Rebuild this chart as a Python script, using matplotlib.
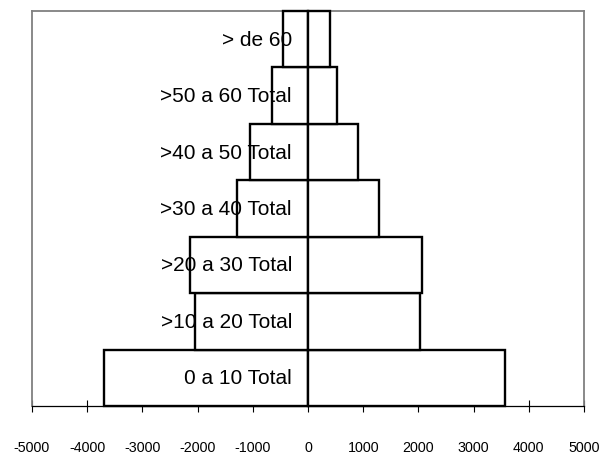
import matplotlib.pyplot as plt

plt.rcParams['font.family'] = ['Liberation Sans', 'DejaVu Sans']

# age groups, bottom to top
groups = ["0 a 10 Total", ">10 a 20 Total", ">20 a 30 Total", ">30 a 40 Total",
          ">40 a 50 Total", ">50 a 60 Total", "> de 60"]
# left side (negative) and right side of the pyramid
left_vals = [-3700, -2052, -2143, -1286, -1050, -645, -458]
right_vals = [3569, 2036, 2072, 1286, 912, 525, 393]
xticks = [-5000, -4000, -3000, -2000, -1000, 0, 1000, 2000, 3000, 4000, 5000]

fig = plt.figure(figsize=(6.01, 4.56), dpi=100)
ax = fig.add_axes([32 / 601, 1 - 407 / 456, 552 / 601, 395 / 456])

pos = range(len(groups))
# bars drawn over the frame so their outer edges stay black
for vals in (left_vals, right_vals):
    bars = ax.barh(pos, vals, height=1.0, color="white", edgecolor="black",
                   linewidth=1.7, zorder=3)
    for b in bars:
        b.set_clip_on(False)

# category names sit just left of the centre line
for i, name in enumerate(groups):
    ax.text(-290, i, name, ha="right", va="center", fontsize=15, color="black",
            zorder=4)

ax.set_xlim(-5000, 5000)
ax.set_ylim(-0.5, len(groups) - 0.5)
ax.set_xticks(xticks)
ax.set_xticklabels([str(t) for t in xticks], fontsize=10.3)
ax.set_yticks([])
ax.tick_params(axis="x", direction="inout", length=9, width=0.8, pad=20)

for side in ["top", "left", "right"]:
    ax.spines[side].set_color("#808080")
    ax.spines[side].set_linewidth(1.3)
ax.spines["bottom"].set_color("black")
ax.spines["bottom"].set_linewidth(0.9)

fig.savefig("out.png", dpi=100)
